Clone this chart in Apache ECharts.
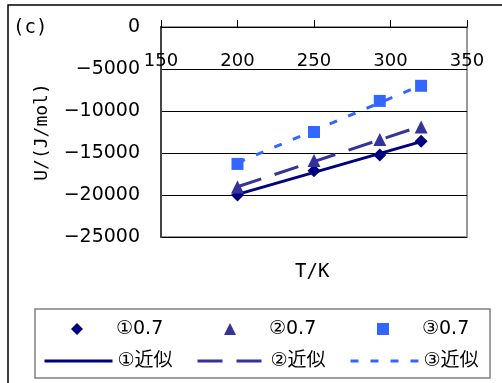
<!DOCTYPE html>
<html>
<head>
<meta charset="utf-8">
<script src="https://cdn.jsdelivr.net/npm/echarts@6/dist/echarts.min.js"></script>
<style>
html,body{margin:0;padding:0;background:#fff;}
#chart{width:502px;height:383px;}
</style>
</head>
<body>
<div id="chart"></div>
<script>
// Data
const temps = [200, 250, 293, 320];
const u1 = [-20000, -17100, -15240, -13600];
const u2 = [-19050, -15900, -13400, -11900];
const u3 = [-16300, -12500, -8800, -7000];
const fitT = [200, 320];
const fit1 = [-19920, -13650];
const fit2 = [-19020, -11800];
const fit3 = [-16150, -6950];
const pointNames = ['①0.7', '②0.7', '③0.7'];
const fitNames = ['①近似', '②近似', '③近似'];
const xTicks = {min: 150, max: 350, interval: 50};
const yTicks = {min: -25000, max: 0, interval: 5000};

const C1 = '#000080', C2 = '#333399', C3 = '#3366FF';
const FONT = '"DejaVu Sans", "Noto Sans CJK JP", sans-serif';

function pairs(xs, ys) { return xs.map((x, i) => [x, ys[i]]); }

const chart = echarts.init(document.getElementById('chart'));

const iconCenters = [77, 230, 383];
const lineLefts = [43, 196, 349];
const legends = [];
pointNames.forEach((n, i) => legends.push({
  data: [n], left: iconCenters[i] - 6, top: 319, padding: 0, itemWidth: 12, itemHeight: 12,
  itemGap: 0, selectedMode: false, itemStyle: {opacity: 1},
  textStyle: {fontFamily: FONT, fontSize: 19, color: '#000', lineHeight: 20, padding: [0, 0, 0, 28]}
}));
fitNames.forEach((n, i) => legends.push({
  data: [n], left: lineLefts[i], top: 351, padding: 0, itemWidth: 68, itemHeight: 12,
  itemGap: 0, selectedMode: false, itemStyle: {opacity: 0}, lineStyle: {width: 3},
  textStyle: {fontFamily: FONT, fontSize: 19, color: '#000', lineHeight: 20}
}));

chart.setOption({
  animation: false,
  backgroundColor: '#fff',
  grid: {left: 161, top: 27, width: 306, height: 210, show: true, borderColor: '#999', borderWidth: 2, backgroundColor: 'transparent'},
  legend: legends,
  graphic: [
    {type: 'rect', shape: {x: 8, y: 5, width: 700, height: 700}, style: {fill: 'none', stroke: '#000', lineWidth: 1.5}, z: -1},
    {type: 'rect', shape: {x: 35, y: 309, width: 455, height: 69}, style: {fill: 'none', stroke: '#808080', lineWidth: 1.5}},
    {type: 'text', left: 13, top: 19, style: {text: '(c)', font: '19px "DejaVu Sans Mono"', fill: '#000'}},
    {type: 'text', left: 295, top: 263, style: {text: 'T/K', font: '19px "DejaVu Sans Mono"', fill: '#000'}}
  ],
  xAxis: {
    type: 'value', position: 'top', min: xTicks.min, max: xTicks.max, interval: xTicks.interval,
    axisLine: {show: true, onZero: false, lineStyle: {color: '#000', width: 1}},
    axisTick: {show: true, inside: false, length: 7, lineStyle: {color: '#000'}},
    axisLabel: {inside: true, margin: 25, fontFamily: FONT, fontSize: 18, color: '#000', showMinLabel: true, showMaxLabel: true},
    splitLine: {show: false}
  },
  yAxis: {
    type: 'value', min: yTicks.min, max: yTicks.max, interval: yTicks.interval,
    name: 'U/(J/mol)', nameLocation: 'middle', nameGap: 110,
    nameTextStyle: {fontFamily: '"DejaVu Sans Mono"', fontSize: 18, color: '#000'},
    axisLine: {show: true, lineStyle: {color: '#444', width: 2}},
    axisTick: {show: false},
    axisLabel: {margin: 21, fontFamily: FONT, fontSize: 19, color: '#000',
      formatter: v => (v < 0 ? '\u2212' + Math.abs(v) : String(v))},
    splitLine: {show: true, lineStyle: {color: '#000', width: 1}}
  },
  series: [
    {name: fitNames[0], type: 'line', data: pairs(fitT, fit1), symbol: 'none', color: C1,
      lineStyle: {color: C1, width: 3, type: 'solid'}, z: 2},
    {name: fitNames[1], type: 'line', data: pairs(fitT, fit2), symbol: 'none', color: C2,
      lineStyle: {color: C2, width: 3, type: [25, 14]}, z: 2},
    {name: fitNames[2], type: 'line', data: pairs(fitT, fit3), symbol: 'none', color: C3,
      lineStyle: {color: C3, width: 3, type: [8, 12]}, z: 2},
    {name: pointNames[0], type: 'scatter', data: pairs(temps, u1), symbol: 'diamond', symbolSize: 13,
      itemStyle: {color: C1, opacity: 1}, z: 3},
    {name: pointNames[1], type: 'scatter', data: pairs(temps, u2), symbol: 'triangle', symbolSize: 13,
      itemStyle: {color: C2, opacity: 1}, z: 3},
    {name: pointNames[2], type: 'scatter', data: pairs(temps, u3), symbol: 'rect', symbolSize: 12,
      itemStyle: {color: C3, opacity: 1}, z: 3}
  ]
});
</script>
</body>
</html>
